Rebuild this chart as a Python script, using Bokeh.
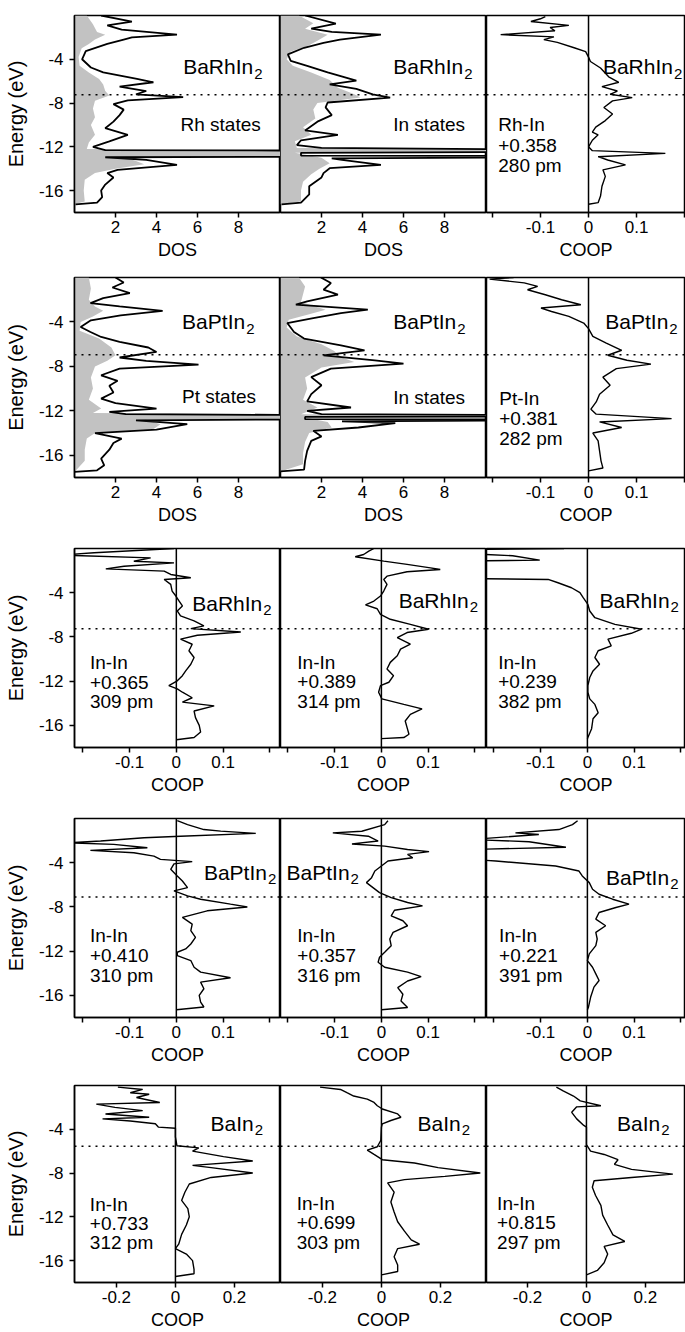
from bokeh.plotting import figure
from bokeh.layouts import gridplot
from bokeh.models import Range1d, FixedTicker, CustomJSTickFormatter, Span, Label
from bokeh.embed import file_html
from bokeh.resources import INLINE

FONT = "Liberation Sans"

# ---------------- data (energy in eV, DOS / COOP values) ----------------
# Row 1: BaRhIn2
r1c1_tot_e = [0.0, -0.55, -0.9, -1.3, -1.75, -2.0, -2.2, -2.6, -3.25, -4.0, -4.75, -5.2, -5.8, -6.1, -6.5, -6.9, -7.2, -7.45, -7.75, -8.1, -8.6, -9.1, -9.7, -10.3, -10.9, -11.5, -12.0, -12.3, -12.35, -12.9, -12.95, -13.2, -13.65, -14.1, -14.4, -14.8, -15.45, -16.0, -16.6, -17.1, -17.25]
r1c1_tot_v = [1.3, 2.8, 1.6, 2.3, 5.0, 2.8, 2.4, 1.6, 0.55, 0.37, 0.8, 1.4, 3.05, 3.85, 2.2, 3.5, 3.0, 5.3, 2.6, 1.9, 2.4, 2.2, 1.9, 1.5, 2.6, 1.7, 0.9, 1.5, 14, 14, 1.5, 3.5, 5.0, 2.1, 1.6, 1.9, 1.5, 1.3, 1.35, 1.1, 0.05]
r1c1_par_e = [0.0, -0.8, -1.5, -1.75, -2.2, -2.6, -3.0, -3.8, -4.6, -5.2, -5.8, -6.3, -6.9, -7.3, -7.8, -8.5, -9.3, -10.0, -10.9, -11.6, -12.2, -12.35, -12.9, -13.0, -13.3, -13.6, -14.0, -14.4, -15.0, -16.0, -17.0, -17.25]
r1c1_par_v = [0.6, 0.9, 1.1, 1.5, 1.0, 0.7, 0.35, 0.2, 0.25, 0.7, 1.2, 1.4, 1.5, 1.7, 1.0, 0.9, 1.0, 0.8, 1.0, 0.7, 0.6, 14, 14, 2.5, 3.0, 3.4, 2.0, 1.0, 0.5, 0.45, 0.5, 0.0]

r1c2_tot_e = [0.0, -0.75, -1.2, -1.5, -1.75, -2.2, -2.5, -2.95, -3.55, -4.15, -4.6, -5.2, -5.95, -6.3, -6.7, -7.2, -7.5, -7.95, -8.4, -9.1, -9.7, -10.5, -10.9, -11.4, -11.85, -12.1, -12.25, -12.45, -12.55, -12.8, -12.85, -12.95, -13.05, -13.2, -13.65, -13.95, -14.4, -14.8, -15.6, -16.35, -17.1, -17.25]
r1c2_tot_v = [1.2, 2.7, 1.5, 2.5, 4.9, 2.9, 2.1, 1.15, 0.36, 0.5, 1.3, 2.3, 3.7, 2.4, 3.7, 4.5, 5.35, 2.3, 2.2, 2.5, 1.8, 1.2, 2.8, 1.0, 0.8, 2.0, 14, 14, 1.0, 1.0, 14, 14, 2.5, 3.0, 4.9, 2.4, 2.1, 2.0, 1.4, 1.4, 1.0, 0.05]
r1c2_par_e = [0.0, -0.7, -1.2, -1.75, -2.3, -2.8, -3.3, -4.0, -4.6, -5.2, -5.9, -6.6, -7.2, -7.5, -8.0, -8.6, -9.4, -10.2, -10.9, -11.5, -12.1, -12.25, -12.45, -12.55, -13.0, -13.5, -14.0, -14.5, -15.2, -16.0, -17.0, -17.25]
r1c2_par_v = [0.9, 1.6, 1.2, 2.3, 1.8, 1.3, 0.5, 0.3, 0.6, 1.5, 2.4, 2.8, 3.6, 3.9, 1.8, 1.6, 1.7, 1.1, 1.5, 0.7, 0.8, 14, 14, 0.7, 2.0, 2.4, 1.9, 1.5, 1.1, 1.0, 1.0, 0.0]

r1c3_e = [-0.1, -0.3, -0.55, -0.9, -1.1, -1.4, -1.75, -1.95, -2.2, -2.45, -2.95, -3.3, -3.8, -4.2, -4.8, -5.6, -6.1, -6.5, -6.9, -7.2, -7.5, -7.8, -8.4, -9.0, -9.6, -10.2, -10.65, -10.9, -11.4, -12.0, -12.35, -12.6, -12.9, -13.2, -13.65, -14.1, -14.7, -15.6, -16.5, -17.1, -17.25]
r1c3_v = [-0.09, -0.1, -0.12, -0.041, -0.08, -0.07, -0.183, -0.072, -0.093, -0.065, -0.03, -0.006, 0.0, 0.004, 0.025, 0.042, 0.063, 0.028, 0.06, 0.045, 0.091, 0.05, 0.032, 0.05, 0.035, 0.015, 0.008, 0.02, 0.008, 0.0, 0.008, 0.16, 0.02, 0.04, 0.077, 0.03, 0.035, 0.028, 0.025, 0.02, 0.0]

# Row 2: BaPtIn2
r2c1_tot_e = [0.0, -0.45, -0.9, -1.4, -1.85, -2.3, -2.6, -3.0, -3.4, -3.85, -4.45, -4.9, -5.35, -5.8, -6.3, -6.7, -7.2, -7.5, -7.85, -8.2, -8.8, -9.3, -9.75, -10.35, -10.9, -11.3, -11.8, -12.1, -12.3, -12.4, -12.75, -12.85, -13.2, -13.7, -14.0, -14.5, -14.9, -15.5, -16.3, -16.9, -17.35, -17.5]
r2c1_tot_v = [2.0, 2.4, 1.85, 2.7, 1.4, 0.78, 2.2, 4.3, 2.25, 0.8, 0.3, 0.78, 1.3, 2.2, 3.6, 4.0, 2.2, 3.5, 6.05, 2.2, 1.3, 2.1, 1.7, 1.9, 1.3, 2.0, 4.0, 1.7, 2.5, 14, 14, 3.0, 5.5, 4.0, 1.0, 2.3, 1.9, 1.7, 1.3, 1.45, 1.1, 0.0]
r2c1_par_e = [0.0, -1.0, -2.0, -2.6, -3.0, -3.5, -4.0, -4.8, -5.5, -6.3, -7.0, -7.5, -8.0, -9.0, -10.0, -11.0, -11.8, -12.2, -12.35, -12.7, -12.8, -13.2, -13.7, -14.0, -14.5, -15.5, -16.5, -17.5]
r2c1_par_v = [0.7, 0.8, 0.7, 1.0, 1.4, 0.9, 0.3, 0.25, 1.2, 1.8, 2.0, 1.6, 1.0, 0.8, 0.9, 0.7, 1.3, 0.9, 14, 14, 3.5, 4.2, 3.8, 1.0, 0.6, 0.5, 0.5, 0.0]

r2c2_tot_e = [0.0, -0.5, -1.1, -1.55, -2.15, -2.45, -2.9, -3.2, -3.66, -4.1, -4.9, -5.5, -6.1, -6.55, -7.0, -7.45, -7.75, -8.2, -8.97, -9.7, -10.5, -11.15, -11.7, -12.0, -12.3, -12.4, -12.5, -12.55, -12.75, -12.78, -12.85, -12.95, -13.1, -13.5, -13.8, -14.3, -14.7, -15.6, -16.5, -17.3, -17.45]
r2c2_tot_v = [1.97, 2.46, 2.1, 2.8, 1.3, 0.75, 4.26, 2.95, 1.6, 0.33, 0.66, 1.15, 2.95, 4.1, 2.1, 4.6, 6.0, 2.46, 1.5, 2.0, 1.5, 1.3, 3.44, 1.3, 2.0, 14, 14, 1.2, 1.2, 14, 14, 3.0, 5.6, 3.8, 1.6, 2.0, 1.5, 1.3, 1.2, 1.15, 0.0]
r2c2_par_e = [0.0, -0.8, -1.5, -2.2, -2.9, -3.3, -3.8, -4.5, -5.3, -6.0, -6.6, -7.2, -7.6, -8.1, -9.0, -10.0, -11.0, -11.7, -12.3, -12.4, -12.5, -12.6, -13.0, -13.5, -14.0, -14.8, -15.8, -16.8, -17.45]
r2c2_par_v = [0.9, 1.2, 1.1, 1.0, 2.2, 1.4, 0.4, 0.3, 0.8, 2.0, 2.6, 3.0, 3.6, 2.0, 1.2, 1.3, 1.1, 1.8, 1.0, 14, 14, 1.2, 2.3, 2.5, 1.4, 1.2, 1.1, 1.1, 0.0]

r2c3_e = [0.0, -0.15, -0.48, -0.8, -1.1, -1.55, -2.0, -2.45, -2.75, -3.06, -3.5, -4.1, -4.6, -5.3, -5.9, -6.55, -7.0, -7.45, -7.8, -8.2, -8.97, -9.7, -10.5, -11.2, -11.85, -12.3, -12.7, -13.0, -13.5, -14.0, -14.7, -15.6, -16.5, -17.15, -17.4]
r2c3_v = [-0.156, -0.206, -0.134, -0.106, -0.127, -0.09, -0.056, -0.016, -0.099, -0.077, -0.041, -0.01, 0.0, 0.009, 0.037, 0.069, 0.04, 0.08, 0.13, 0.058, 0.03, 0.045, 0.023, 0.016, 0.005, 0.016, 0.173, 0.023, 0.069, 0.009, 0.02, 0.023, 0.026, 0.03, 0.0]

# Row 3: BaRhIn2 In-In COOP
r3c1_e = [0.0, -0.38, -0.6, -0.85, -1.15, -1.3, -1.6, -1.84, -2.05, -2.35, -2.65, -2.8, -3.25, -3.85, -4.3, -4.75, -5.2, -5.65, -6.1, -6.55, -7.0, -7.25, -7.55, -7.85, -8.2, -8.66, -9.25, -9.86, -10.47, -11.07, -11.5, -11.97, -12.4, -12.7, -13.0, -13.5, -13.9, -14.23, -14.7, -15.3, -16.0, -16.6, -17.1, -17.3]
r3c1_v = [-0.005, -0.176, -0.25, -0.055, -0.091, -0.005, -0.112, -0.151, -0.026, -0.012, 0.031, -0.026, -0.012, -0.009, -0.001, 0.006, 0.013, 0.002, 0.009, 0.038, 0.059, 0.031, 0.138, 0.045, 0.009, 0.034, 0.027, 0.038, 0.031, 0.02, 0.013, 0.002, -0.016, 0.002, 0.013, 0.034, 0.013, 0.081, 0.038, 0.041, 0.049, 0.052, 0.038, 0.0]
r3c2_e = [0.0, -0.24, -0.54, -0.75, -1.14, -1.44, -1.75, -1.9, -2.1, -2.5, -2.8, -3.25, -3.85, -4.3, -4.75, -5.1, -5.45, -5.96, -6.4, -6.86, -7.3, -7.6, -8.06, -8.66, -9.1, -9.7, -10.3, -10.9, -11.5, -12.1, -12.4, -13.0, -13.6, -14.1, -14.5, -15.0, -15.6, -16.2, -16.8, -17.1, -17.2]
r3c2_v = [-0.016, -0.027, -0.038, -0.056, 0.005, 0.055, 0.105, 0.126, 0.055, 0.012, 0.005, 0.012, 0.005, -0.002, -0.016, -0.034, -0.009, -0.002, 0.019, 0.062, 0.101, 0.055, 0.034, 0.062, 0.041, 0.034, 0.019, 0.012, 0.026, 0.016, -0.002, -0.006, 0.001, 0.048, 0.087, 0.062, 0.051, 0.055, 0.059, 0.048, 0.0]
r3c3_e = [0.0, -0.1, -0.36, -0.66, -1.05, -1.15, -1.27, -1.57, -2.7, -2.8, -3.1, -3.55, -4.0, -4.45, -5.05, -5.65, -6.26, -6.86, -7.3, -7.67, -8.2, -8.8, -9.25, -9.86, -10.47, -11.07, -11.67, -12.4, -13.0, -13.6, -14.1, -14.85, -15.4, -16.3, -17.1, -17.2]
r3c3_v = [-0.05, -0.3, -0.3, -0.16, -0.102, -0.3, -0.3, -0.3, -0.3, -0.084, -0.063, -0.034, -0.016, -0.009, 0.001, 0.005, 0.016, 0.059, 0.116, 0.094, 0.044, 0.051, 0.023, 0.016, 0.026, 0.012, 0.005, 0.001, 0.001, 0.005, 0.016, 0.023, 0.012, 0.009, 0.001, 0.0]

# Row 4: BaPtIn2 In-In COOP
r4c1_e = [-0.2, -0.55, -1.0, -1.14, -1.35, -1.6, -1.74, -2.04, -2.2, -2.34, -2.64, -2.88, -3.1, -3.4, -3.7, -3.9, -4.1, -4.6, -5.2, -5.65, -6.25, -6.55, -7.0, -7.3, -7.75, -8.0, -8.35, -8.95, -9.55, -10.15, -10.75, -11.35, -11.8, -12.1, -12.4, -12.85, -13.45, -13.9, -14.4, -14.8, -15.4, -16.0, -16.6, -17.05, -17.3]
r4c1_v = [0.002, 0.024, 0.059, 0.095, 0.17, 0.009, -0.069, -0.162, -0.234, -0.134, -0.062, -0.184, -0.091, -0.048, -0.034, 0.034, -0.005, -0.012, 0.002, 0.013, 0.024, -0.005, 0.024, 0.052, 0.116, 0.152, 0.066, 0.013, 0.034, 0.031, 0.041, 0.031, 0.02, 0.002, 0.002, 0.031, 0.038, 0.052, 0.116, 0.052, 0.059, 0.049, 0.052, 0.059, 0.0]
r4c2_e = [-0.2, -0.55, -1.15, -1.3, -1.6, -2.04, -2.3, -2.5, -2.8, -3.0, -3.25, -3.55, -3.85, -4.3, -4.75, -5.35, -5.8, -6.25, -6.7, -7.15, -7.6, -7.9, -8.3, -8.8, -9.25, -9.7, -10.3, -10.9, -11.5, -12.1, -12.55, -13.0, -13.45, -13.9, -14.3, -14.7, -15.3, -15.9, -16.5, -17.1, -17.3]
r4c2_v = [0.014, 0.007, -0.042, -0.104, -0.028, -0.007, -0.063, 0.007, 0.056, 0.102, 0.056, 0.067, 0.014, 0.0, -0.014, -0.021, -0.032, -0.018, -0.004, 0.021, 0.056, 0.088, 0.028, 0.021, 0.046, 0.056, 0.025, 0.018, 0.021, 0.007, -0.004, -0.007, 0.007, 0.056, 0.085, 0.056, 0.035, 0.046, 0.042, 0.056, 0.0]
r4c3_e = [-0.2, -0.55, -1.0, -1.3, -1.45, -1.9, -2.1, -2.6, -2.8, -3.7, -3.85, -4.3, -4.75, -5.2, -5.8, -6.4, -6.85, -7.3, -7.75, -8.05, -8.5, -9.1, -9.7, -10.3, -10.9, -11.5, -12.25, -12.85, -13.45, -14.05, -14.65, -15.25, -16.15, -17.1, -17.3]
r4c3_v = [-0.021, -0.032, -0.061, -0.154, -0.104, -0.25, -0.125, -0.046, -0.25, -0.25, -0.196, -0.068, -0.018, -0.011, 0.004, 0.011, 0.025, 0.054, 0.089, 0.061, 0.025, 0.018, 0.039, 0.018, 0.021, 0.018, 0.004, 0.0, 0.011, 0.018, 0.025, 0.014, 0.007, 0.002, 0.0]

# Row 5: BaIn2 In-In COOP
r5c1_e = [-0.15, -0.36, -0.66, -0.8, -1.1, -1.55, -1.7, -2.0, -2.3, -2.6, -2.9, -3.05, -3.25, -3.5, -3.8, -3.9, -4.7, -5.5, -5.7, -6.0, -6.5, -6.9, -7.3, -7.5, -8.0, -8.4, -9.0, -9.75, -10.5, -11.25, -12.0, -12.75, -13.6, -14.5, -14.9, -15.4, -16.0, -16.8, -17.2, -17.45]
r5c1_v = [-0.195, -0.111, -0.153, -0.089, -0.132, -0.053, -0.268, -0.205, -0.111, -0.237, -0.089, -0.247, -0.153, -0.068, -0.058, 0.0, 0.0, 0.005, 0.079, 0.058, 0.163, 0.262, 0.058, 0.121, 0.262, 0.121, 0.047, 0.032, 0.021, 0.042, 0.047, 0.037, 0.021, 0.011, 0.0, 0.037, 0.058, 0.063, 0.063, 0.0]
r5c2_e = [-0.15, -0.36, -0.66, -0.96, -1.25, -1.55, -1.85, -2.15, -2.6, -2.9, -3.2, -3.5, -3.8, -5.0, -5.6, -5.9, -6.3, -6.78, -7.08, -7.5, -8.0, -8.3, -8.6, -8.9, -9.75, -10.65, -11.55, -12.45, -13.3, -14.1, -14.5, -14.9, -15.65, -16.4, -17.0, -17.3]
r5c2_v = [-0.208, -0.139, -0.117, -0.094, -0.048, -0.025, -0.014, 0.003, 0.055, 0.066, 0.032, 0.003, 0.0, -0.002, -0.014, -0.048, -0.025, 0.003, 0.112, 0.192, 0.335, 0.215, 0.078, 0.021, 0.043, 0.032, 0.043, 0.055, 0.078, 0.101, 0.129, 0.055, 0.043, 0.055, 0.055, 0.0]
r5c3_e = [-0.15, -0.5, -0.96, -1.4, -1.85, -1.95, -2.45, -3.05, -3.65, -3.8, -5.4, -6.0, -6.3, -6.78, -7.2, -7.66, -8.1, -8.4, -8.7, -9.3, -10.05, -10.95, -11.85, -12.75, -13.65, -14.25, -14.7, -15.4, -16.2, -16.9, -17.3]
r5c3_v = [-0.102, -0.079, -0.044, -0.021, 0.049, -0.033, -0.05, -0.033, -0.009, 0.0, 0.0, 0.014, 0.06, 0.107, 0.095, 0.153, 0.293, 0.153, 0.026, 0.02, 0.031, 0.049, 0.055, 0.072, 0.09, 0.13, 0.06, 0.072, 0.06, 0.037, 0.0]

# Fermi levels (dotted lines) per row
fermi_levels = [-7.25, -6.95, -7.25, -7.1, -5.55]

# tick labels
energy_ticks = [-16, -12, -8, -4]
dos_ticks = [2, 4, 6, 8]
coop_ticks_small = [-0.1, 0, 0.1]
coop_ticks_small_minor = [-0.2, 0.2]
coop_ticks_large = [-0.2, 0, 0.2]

# ---------------- layout ----------------
ROW_H = [270, 271, 270, 267, 254]
ROW_TOP = [15, 7, 7, 7, 7]
ROW_BOTTOM = [58, 64, 64, 61, 47]
COL_W = [280, 206, 199]
LEFT = 74

NAME_PX = 21
W_RH = 3.335 * NAME_PX   # text width of "BaRhIn"
W_PT = 3.002 * NAME_PX
W_BA = 2.057 * NAME_PX

fmt = CustomJSTickFormatter(code="""
if (tick === 0) { return "0"; }
if (Math.abs(tick) < 1) { return tick.toFixed(1); }
return tick.toFixed(0);
""")

panels = [
    # row 1
    dict(row=0, col=0, kind="dos", xr=(0, 10.05), tot=(r1c1_tot_e, r1c1_tot_v), par=(r1c1_par_e, r1c1_par_v),
         name=("BaRhIn", W_RH, 5.3, -4.7), texts=[("Rh states", 5.17, -10.0)]),
    dict(row=0, col=1, kind="dos", xr=(0, 10.05), tot=(r1c2_tot_e, r1c2_tot_v), par=(r1c2_par_e, r1c2_par_v),
         name=("BaRhIn", W_RH, 5.5, -4.7), texts=[("In states", 5.5, -10.0)]),
    dict(row=0, col=2, kind="coop1", xr=(-0.2125, 0.202), cur=(r1c3_e, r1c3_v),
         name=("BaRhIn", W_RH, 0.03, -4.7), texts=[("Rh-In", -0.188, -10.0), ("+0.358", -0.188, -11.85), ("280 pm", -0.188, -13.7)]),
    # row 2
    dict(row=1, col=0, kind="dos", xr=(0, 10.05), tot=(r2c1_tot_e, r2c1_tot_v), par=(r2c1_par_e, r2c1_par_v),
         name=("BaPtIn", W_PT, 5.25, -4.0), texts=[("Pt states", 5.25, -10.75)]),
    dict(row=1, col=1, kind="dos", xr=(0, 10.05), tot=(r2c2_tot_e, r2c2_tot_v), par=(r2c2_par_e, r2c2_par_v),
         name=("BaPtIn", W_PT, 5.5, -4.0), texts=[("In states", 5.5, -10.8)]),
    dict(row=1, col=2, kind="coop1", xr=(-0.2125, 0.202), cur=(r2c3_e, r2c3_v),
         name=("BaPtIn", W_PT, 0.035, -4.0), texts=[("Pt-In", -0.186, -10.9), ("+0.381", -0.186, -12.7), ("282 pm", -0.186, -14.5)]),
    # row 3
    dict(row=2, col=0, kind="coop1", xr=(-0.218, 0.223), cur=(r3c1_e, r3c1_v),
         name=("BaRhIn", W_RH, 0.034, -5.0), texts=[("In-In", -0.185, -10.3), ("+0.365", -0.185, -12.1), ("309 pm", -0.185, -13.8)]),
    dict(row=2, col=1, kind="coop1", xr=(-0.216, 0.225), cur=(r3c2_e, r3c2_v),
         name=("BaRhIn", W_RH, 0.037, -4.7), texts=[("In-In", -0.18, -10.3), ("+0.389", -0.18, -12.0), ("314 pm", -0.18, -13.8)]),
    dict(row=2, col=2, kind="coop1", xr=(-0.216, 0.21), cur=(r3c3_e, r3c3_v),
         name=("BaRhIn", W_RH, 0.026, -4.7), texts=[("In-In", -0.191, -10.3), ("+0.239", -0.191, -12.0), ("382 pm", -0.191, -13.8)]),
    # row 4
    dict(row=3, col=0, kind="coop1", xr=(-0.218, 0.223), cur=(r4c1_e, r4c1_v),
         name=("BaPtIn", W_PT, 0.059, -4.9), texts=[("In-In", -0.185, -10.6), ("+0.410", -0.185, -12.4), ("310 pm", -0.185, -14.2)]),
    dict(row=3, col=1, kind="coop1", xr=(-0.216, 0.225), cur=(r4c2_e, r4c2_v),
         name=("BaPtIn", W_PT, -0.203, -4.9), texts=[("In-In", -0.18, -10.6), ("+0.357", -0.18, -12.4), ("316 pm", -0.18, -14.2)]),
    dict(row=3, col=2, kind="coop1", xr=(-0.216, 0.21), cur=(r4c3_e, r4c3_v),
         name=("BaPtIn", W_PT, 0.04, -5.3), texts=[("In-In", -0.189, -10.6), ("+0.221", -0.189, -12.4), ("391 pm", -0.189, -14.2)]),
    # row 5
    dict(row=4, col=0, kind="coop2", xr=(-0.342, 0.356), cur=(r5c1_e, r5c1_v),
         name=("BaIn", W_BA, 0.119, -3.5), texts=[("In-In", -0.29, -10.9), ("+0.733", -0.29, -12.6), ("312 pm", -0.29, -14.3)]),
    dict(row=4, col=1, kind="coop2", xr=(-0.342, 0.356), cur=(r5c2_e, r5c2_v),
         name=("BaIn", W_BA, 0.122, -3.45), texts=[("In-In", -0.287, -10.8), ("+0.699", -0.287, -12.5), ("303 pm", -0.287, -14.3)]),
    dict(row=4, col=2, kind="coop2", xr=(-0.339, 0.336), cur=(r5c3_e, r5c3_v),
         name=("BaIn", W_BA, 0.104, -3.45), texts=[("In-In", -0.303, -10.8), ("+0.815", -0.303, -12.5), ("297 pm", -0.303, -14.3)]),
]


def style_axis(ax, label):
    ax.axis_label = label
    ax.axis_label_text_font = FONT
    ax.axis_label_text_font_size = "18px"
    ax.axis_label_text_font_style = "normal"
    ax.axis_label_text_color = "black"
    ax.major_label_text_font = FONT
    ax.major_label_text_font_size = "17px"
    ax.major_label_text_color = "black"
    ax.axis_line_width = 1.5
    ax.axis_line_color = "black"
    ax.major_tick_line_width = 1.5
    ax.minor_tick_line_width = 1.5
    ax.major_tick_line_color = "black"
    ax.minor_tick_line_color = "black"
    ax.major_tick_in = 0
    ax.major_tick_out = 5
    ax.minor_tick_in = 0
    ax.minor_tick_out = 5
    ax.formatter = fmt
    ax.major_label_standoff = 3
    ax.axis_label_standoff = 4


def add_text(p, txt, x, y, size):
    p.add_layout(Label(x=x, y=y, text=txt, text_font=FONT, text_font_size=size,
                       text_color="black", text_baseline="alphabetic", text_align="left"))


grid = [[None] * 3 for _ in range(5)]
for cfg in panels:
    r, c = cfg["row"], cfg["col"]
    p = figure(width=COL_W[c], height=ROW_H[r],
               x_range=Range1d(*cfg["xr"]), y_range=Range1d(-18, 0),
               output_backend="svg", toolbar_location=None,
               y_axis_location="left" if c == 0 else None,
               min_border_left=LEFT if c == 0 else 0, min_border_right=0,
               min_border_top=ROW_TOP[r], min_border_bottom=ROW_BOTTOM[r])
    p.grid.visible = False
    p.outline_line_color = "black"
    p.outline_line_width = 1.5
    p.background_fill_color = "white"
    p.border_fill_color = "white"

    xa = p.xaxis[0]
    if cfg["kind"] == "dos":
        xa.ticker = FixedTicker(ticks=dos_ticks, minor_ticks=[])
        style_axis(xa, "DOS")
    elif cfg["kind"] == "coop1":
        xa.ticker = FixedTicker(ticks=coop_ticks_small, minor_ticks=coop_ticks_small_minor)
        style_axis(xa, "COOP")
    else:
        xa.ticker = FixedTicker(ticks=coop_ticks_large, minor_ticks=[])
        style_axis(xa, "COOP")

    if c == 0:
        ya = p.yaxis[0]
        ya.ticker = FixedTicker(ticks=energy_ticks, minor_ticks=[])
        style_axis(ya, "Energy (eV)")
        ya.axis_label_text_font_size = "20px"
        ya.major_label_standoff = 6
        ya.axis_label_standoff = 9

    if cfg["kind"] == "dos":
        pe, pv = cfg["par"]
        p.harea(x1=0, x2=pv, y=pe, fill_color="#c2c2c2", fill_alpha=1.0)
        te, tv = cfg["tot"]
        p.line(x=tv, y=te, line_color="black", line_width=1.8)
    else:
        p.add_layout(Span(location=0, dimension="height", line_color="black", line_width=1.5))
        ce, cv = cfg["cur"]
        p.line(x=cv, y=ce, line_color="black", line_width=1.4)

    p.add_layout(Span(location=fermi_levels[r], dimension="width", line_color="black",
                      line_width=1.5, line_dash="2 5"))

    nm, w, nx, ny = cfg["name"]
    add_text(p, nm, nx, ny, f"{NAME_PX}px")
    p.add_layout(Label(x=nx, y=ny - 0.6, x_offset=w + 1, text="2", text_font=FONT,
                       text_font_size="15px", text_color="black",
                       text_baseline="alphabetic", text_align="left"))
    for t, tx, ty in cfg["texts"]:
        add_text(p, t, tx, ty, "19px")

    grid[r][c] = p

layout = gridplot(grid, toolbar_location=None)
open("out.html", "w").write(file_html(layout, INLINE))
